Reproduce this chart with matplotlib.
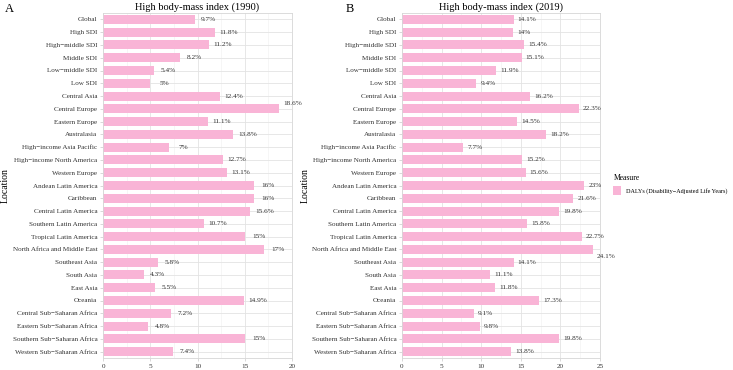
import matplotlib.pyplot as plt
from matplotlib.patches import Patch
from matplotlib.ticker import MultipleLocator

plt.rcParams['font.family'] = ['Liberation Serif', 'DejaVu Serif']

locations = ["Global", "High SDI", "High−middle SDI", "Middle SDI", "Low−middle SDI", "Low SDI",
             "Central Asia", "Central Europe", "Eastern Europe", "Australasia",
             "High−income Asia Pacific", "High−income North America", "Western Europe",
             "Andean Latin America", "Caribbean", "Central Latin America", "Southern Latin America",
             "Tropical Latin America", "North Africa and Middle East", "Southeast Asia", "South Asia",
             "East Asia", "Oceania", "Central Sub−Saharan Africa", "Eastern Sub−Saharan Africa",
             "Southern Sub−Saharan Africa", "Western Sub−Saharan Africa"]

dalys_1990 = [9.7, 11.8, 11.2, 8.2, 5.4, 5, 12.4, 18.6, 11.1, 13.8, 7, 12.7, 13.1,
              16, 16, 15.6, 10.7, 15, 17, 5.8, 4.3, 5.5, 14.9, 7.2, 4.8, 15, 7.4]
labels_1990 = ["9.7%", "11.8%", "11.2%", "8.2%", "5.4%", "5%", "12.4%", "18.6%", "11.1%", "13.8%",
               "7%", "12.7%", "13.1%", "16%", "16%", "15.6%", "10.7%", "15%", "17%", "5.8%",
               "4.3%", "5.5%", "14.9%", "7.2%", "4.8%", "15%", "7.4%"]

dalys_2019 = [14.1, 14, 15.4, 15.1, 11.9, 9.4, 16.2, 22.3, 14.5, 18.2, 7.7, 15.2, 15.6,
              23, 21.6, 19.8, 15.8, 22.7, 24.1, 14.1, 11.1, 11.8, 17.3, 9.1, 9.8, 19.8, 13.8]
labels_2019 = ["14.1%", "14%", "15.4%", "15.1%", "11.9%", "9.4%", "16.2%", "22.3%", "14.5%", "18.2%",
               "7.7%", "15.2%", "15.6%", "23%", "21.6%", "19.8%", "15.8%", "22.7%", "24.1%", "14.1%",
               "11.1%", "11.8%", "17.3%", "9.1%", "9.8%", "19.8%", "13.8%"]

pink = '#F9B4D6'
n = len(locations)
ypos = list(range(n))

fig = plt.figure(figsize=(7.33, 3.70), dpi=100)
axA = fig.add_axes([103/733, 1 - 358/370, 189/733, 345/370])
axB = fig.add_axes([402/733, 1 - 358/370, 198/733, 345/370])


def draw(ax, vals, labs, xmax, title, ha, offset, nudges, ylab_x):
    ax.barh(ypos, vals, height=0.7, color=pink, zorder=2)
    for i, (v, t) in enumerate(zip(vals, labs)):
        dy = nudges.get(i, 0)
        ax.annotate(t, (v, i), xytext=(offset, dy), textcoords='offset points',
                    ha=ha, va='center', fontsize=5.2, color='#333333', zorder=3)
    ax.set_xlim(0, xmax)
    ax.set_ylim(n - 0.5, -0.5)
    ax.set_yticks(ypos)
    ax.set_yticklabels(locations)
    ax.xaxis.set_major_locator(MultipleLocator(5))
    ax.xaxis.set_minor_locator(MultipleLocator(2.5))
    ax.grid(True, which='major', color='#E3E3E3', linewidth=0.6, zorder=0)
    ax.grid(True, which='minor', axis='x', color='#F0F0F0', linewidth=0.4, zorder=0)
    ax.set_axisbelow(True)
    for s in ax.spines.values():
        s.set_color('#D6D6D6')
        s.set_linewidth(0.6)
    ax.tick_params(axis='both', which='major', labelsize=5.1, length=2, width=0.4,
                   color='#BBBBBB', pad=2, labelcolor='#333333')
    ax.tick_params(which='minor', length=0)
    ax.set_title(title, fontsize=7.5, pad=2)
    ax.set_ylabel('Location', fontsize=7)
    ax.yaxis.set_label_coords(ylab_x, 0.5)
    return ax


draw(axA, dalys_1990, labels_1990, 20, 'High body-mass index (1990)', 'center', 10, {7: 4},
     (10 - 103) / 189)
draw(axB, dalys_2019, labels_2019, 25, 'High body-mass index (2019)', 'left', 3, {18: -5},
     (310 - 402) / 198)

fig.text(5/733, 1 - 9/370, 'A', fontsize=9, va='center', ha='left')
fig.text(346/733, 1 - 9/370, 'B', fontsize=9, va='center', ha='left')

handles = [Patch(facecolor=pink, edgecolor='none')]
leg = fig.legend(handles, ['DALYs (Disability−Adjusted Life Years)'], title='Measure',
                 loc='upper left', bbox_to_anchor=(611/733, 1 - 172/370), frameon=False,
                 fontsize=4.4, title_fontsize=5.5, handlelength=1.3, handleheight=2.0,
                 handletextpad=0.7, borderaxespad=0)
leg._legend_box.align = 'left'

fig.savefig('out.png', dpi=100)
